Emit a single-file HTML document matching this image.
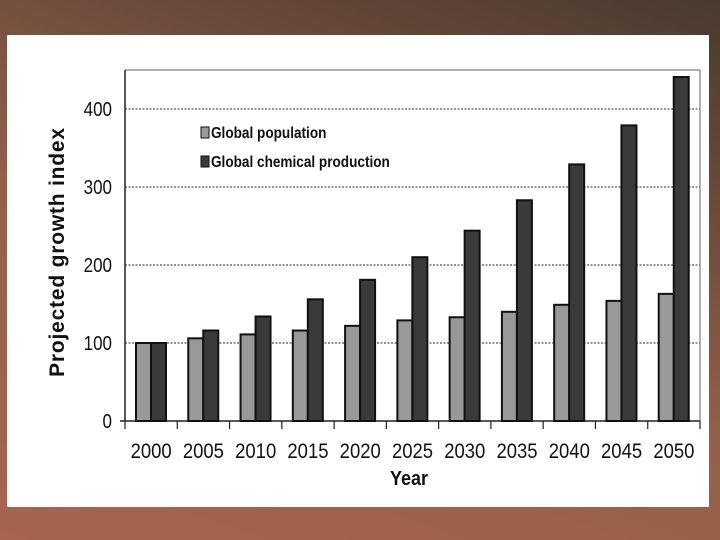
<!DOCTYPE html>
<html><head><meta charset="utf-8"><style>
body{margin:0;width:720px;height:540px;overflow:hidden;background:linear-gradient(20deg,#a8644c 0%,#94604a 45%,#6a4a3a 75%,#4a3a30 100%);font-family:"Liberation Sans",sans-serif}
#card{position:absolute;left:7px;top:35px;width:702px;height:472px;background:#fff}
svg{position:absolute;left:0;top:0}
</style></head><body>
<div id="card"></div>
<svg id="chart" width="720" height="540"></svg>
<script>
const categories=["2000","2005","2010","2015","2020","2025","2030","2035","2040","2045","2050"];
const population=[100,106,111,116,122,129,133,140,149,154,163];
const chemical=[100,116,134,156,181,210,244,283,329,379,441];
const yTicks=[0,100,200,300,400];
const NS="http://www.w3.org/2000/svg";
const svg=document.getElementById('chart');
const L=125,R=700,T=70,B=421;
const cw=(R-L)/categories.length;
function mk(t,a,p){const e=document.createElementNS(NS,t);for(const k in a)e.setAttribute(k,a[k]);(p||svg).appendChild(e);return e;}
function yy(v){return B-v*0.78;}
yTicks.forEach(t=>{
 if(t>0){const g=mk('line',{x1:L,x2:R,y1:yy(t),y2:yy(t),stroke:'#555','stroke-width':1.3,'stroke-dasharray':'2,1.5'});
 
 }
 const tx=mk('text',{x:112,y:yy(t)+7,'text-anchor':'end','font-size':20,fill:'#111',transform:`scale(0.85,1) translate(${112/0.85-112},0)`});
 tx.textContent=t;
 
 
});
mk('line',{x1:L,x2:R,y1:T,y2:T,stroke:'#666','stroke-width':1});
mk('line',{x1:R,x2:R,y1:T,y2:B,stroke:'#666','stroke-width':1});
mk('line',{x1:L,x2:L,y1:T,y2:B,stroke:'#222','stroke-width':1.5});
mk('line',{x1:L-5,x2:R,y1:B,y2:B,stroke:'#222','stroke-width':1.5});
categories.forEach((c,i)=>{
 const x0=L+i*cw;
 mk('line',{x1:x0,x2:x0,y1:B,y2:B+8,stroke:'#222','stroke-width':1.2});
 const b1=mk('rect',{x:x0+11,y:yy(population[i]),width:15,height:population[i]*0.78,fill:'#999',stroke:'#111','stroke-width':2});
 
 
 const b2=mk('rect',{x:x0+26,y:yy(chemical[i]),width:15,height:chemical[i]*0.78,fill:'#3a3a3a',stroke:'#111','stroke-width':2});
 
 
 const tx=mk('text',{x:(x0+cw/2)/0.88,y:458,'text-anchor':'middle','font-size':21,fill:'#111',transform:'scale(0.88,1)'});
 tx.textContent=c;
 
 
});
mk('line',{x1:R,x2:R,y1:B,y2:B+8,stroke:'#222','stroke-width':1.2});
const xt=mk('text',{x:409/0.9,y:485,'text-anchor':'middle','font-size':20,'font-weight':'bold',fill:'#111',transform:'scale(0.9,1)'});
xt.textContent='Year';


const yt=mk('text',{x:0,y:0,'text-anchor':'middle','font-size':21,'font-weight':'bold',fill:'#111',transform:'translate(64,252) rotate(-90)','letter-spacing':'0.8'});
yt.textContent='Projected growth index';


[['Global population','#999',133],['Global chemical production','#3a3a3a',162]].forEach((d,i)=>{
 const s=mk('rect',{x:201,y:d[2]-6,width:8,height:11,fill:d[1],stroke:'#111','stroke-width':1});
 
 
 const t=mk('text',{x:211/0.85,y:d[2]+5,'font-size':16,'font-weight':'bold',fill:'#111',transform:'scale(0.85,1)'});
 t.textContent=d[0];
 
 
});
</script>
</body></html>
